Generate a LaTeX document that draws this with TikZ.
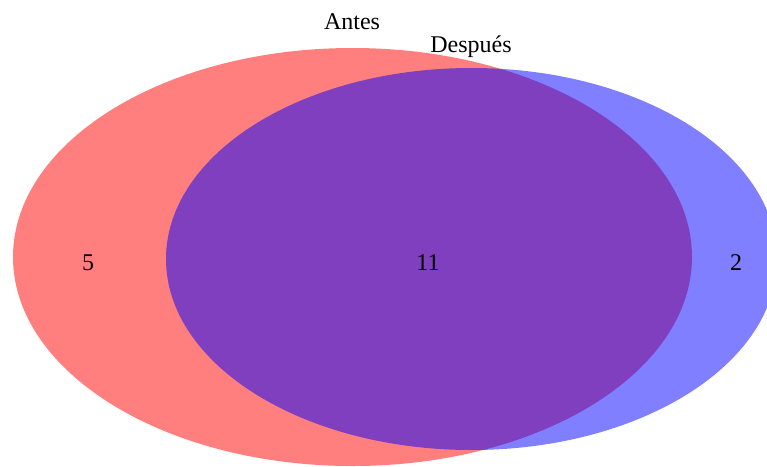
\documentclass[tikz,border=0pt]{standalone}
\usepackage{fontspec}
\setmainfont{Liberation Serif}
\usetikzlibrary{shapes.geometric}

\begin{document}
\begin{tikzpicture}[x=1pt, y=-1pt,
    every node/.style={font=\fontsize{24}{28}\selectfont},
    set/.style={ellipse, inner sep=0pt, fill opacity=0.5},
    count/.style={anchor=base, text=black}
  ]
  \useasboundingbox (0,0) rectangle (767,466);
  \clip (0,0) rectangle (767,466);
  \fill[white] (0,0) rectangle (767,466);
  % the two sets
  \node[set, fill=red, minimum width=679pt, minimum height=418pt] (antes) at (352.5,257) {};
  \node[set, fill=blue, minimum width=611pt, minimum height=382pt] (despues) at (471.5,259) {};
  % set names
  \node[count] (antes-lbl) at (352,29) {Antes};
  \node[count] (despues-lbl) at (471,52) {Después};
  % counts
  \node[count] (solo-antes) at (88,270.5) {5};
  \node[count] (ambos) at (428,270.5) {11};
  \node[count] (solo-despues) at (736,270.5) {2};
\end{tikzpicture}
\end{document}
